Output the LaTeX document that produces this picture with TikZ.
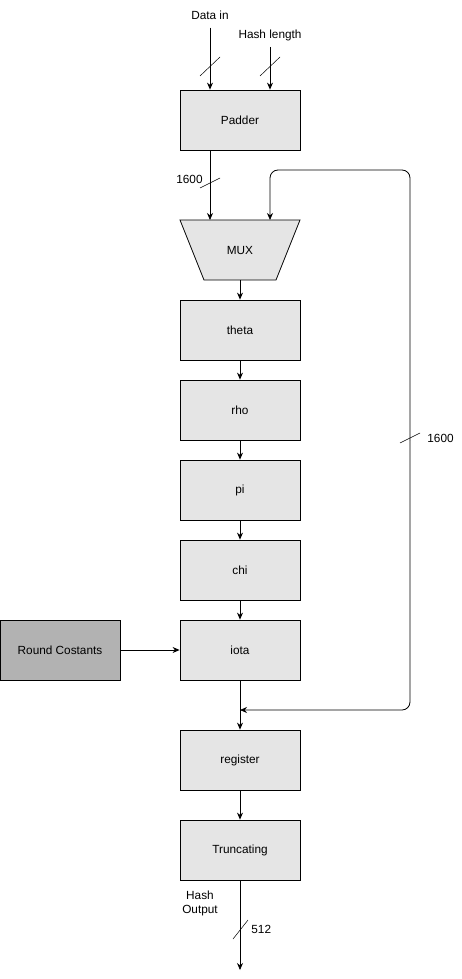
\documentclass[tikz,border=0pt]{standalone}
\usepackage{fontspec}
\setmainfont{Liberation Sans}
\usetikzlibrary{arrows.meta}
\tikzset{
  stage/.style={draw, fill=black!10, minimum width=120pt, minimum height=60pt, inner sep=0pt},
  wire/.style={-{Stealth[length=7pt,width=6pt]}},
  label/.style={inner sep=1pt, align=center}
}
\begin{document}
\begin{tikzpicture}[x=1pt,y=-1pt,line width=0.8pt,font=\fontsize{11.8}{14}\selectfont]
        \useasboundingbox (0,0) rectangle (462,979);
        %% Stages
        \node[stage] (padder) at (240,120) {Padder};
        \draw[fill=black!10] (180,220) -- (300,220) -- (276,280) -- (204,280) -- cycle;
        \node (mux) at (240,250) {MUX};
        \node[stage] (theta) at (240,330) {theta};
        \node[stage] (rho) at (240,410) {rho};
        \node[stage] (pi) at (240,490) {pi};
        \node[stage] (chi) at (240,570) {chi};
        \node[stage] (iota) at (240,650) {iota};
        \node[stage, fill=black!30] (rc) at (60,650) {Round Costants};
        \node[stage] (register) at (240,760) {register};
        \node[stage] (trunc) at (240,850) {Truncating};
        %% Inputs
        \node[label] (datain) at (210,15) {Data in};
        \node[label] (hashlen) at (270,35) {Hash length};
        \coordinate (muxa) at (210,220);
        \coordinate (muxb) at (270,220);
        \coordinate (join) at (240,710);
        \coordinate (out) at (240,970);
        \draw[wire] (datain.south) ++(0,7) -- (datain.south |- padder.north);
        \draw[wire] (hashlen.south) ++(0,5) -- (hashlen.south |- padder.north);
        \draw[wire] (padder.south -| muxa) -- (muxa);
        %% Chain
        \draw[wire] (240,280) -- (theta);
        \draw[wire] (theta) -- (rho);
        \draw[wire] (rho) -- (pi);
        \draw[wire] (pi) -- (chi);
        \draw[wire] (chi) -- (iota);
        \draw[wire] (rc) -- (iota);
        \draw[wire] (iota) -- (register);
        \draw[wire] (register) -- (trunc);
        \draw[wire] (trunc) -- (out);
        %% Feedback
        \draw[wire, rounded corners=8pt] (410,440) -- (410,710) -- (join);
        \draw[wire, rounded corners=8pt] (410,440) -- (410,170) -- (270,170) -- (muxb);
        %% Bus widths
        \draw[line width=0.5pt] (200,76) -- (220,57);
        \draw[line width=0.5pt] (260,76) -- (280,57);
        \draw[line width=0.5pt] (200,188) -- (220,178);
        \node[label, anchor=east] at (204,179) {1600};
        \draw[line width=0.5pt] (400,443) -- (420,433);
        \node[label, anchor=west] at (426,438) {1600};
        \draw[line width=0.5pt] (233,939) -- (248,920);
        \node[label, anchor=west] at (250,929) {512};
        \node[label] at (200,903) {Hash\\Output};
\end{tikzpicture}
\end{document}
